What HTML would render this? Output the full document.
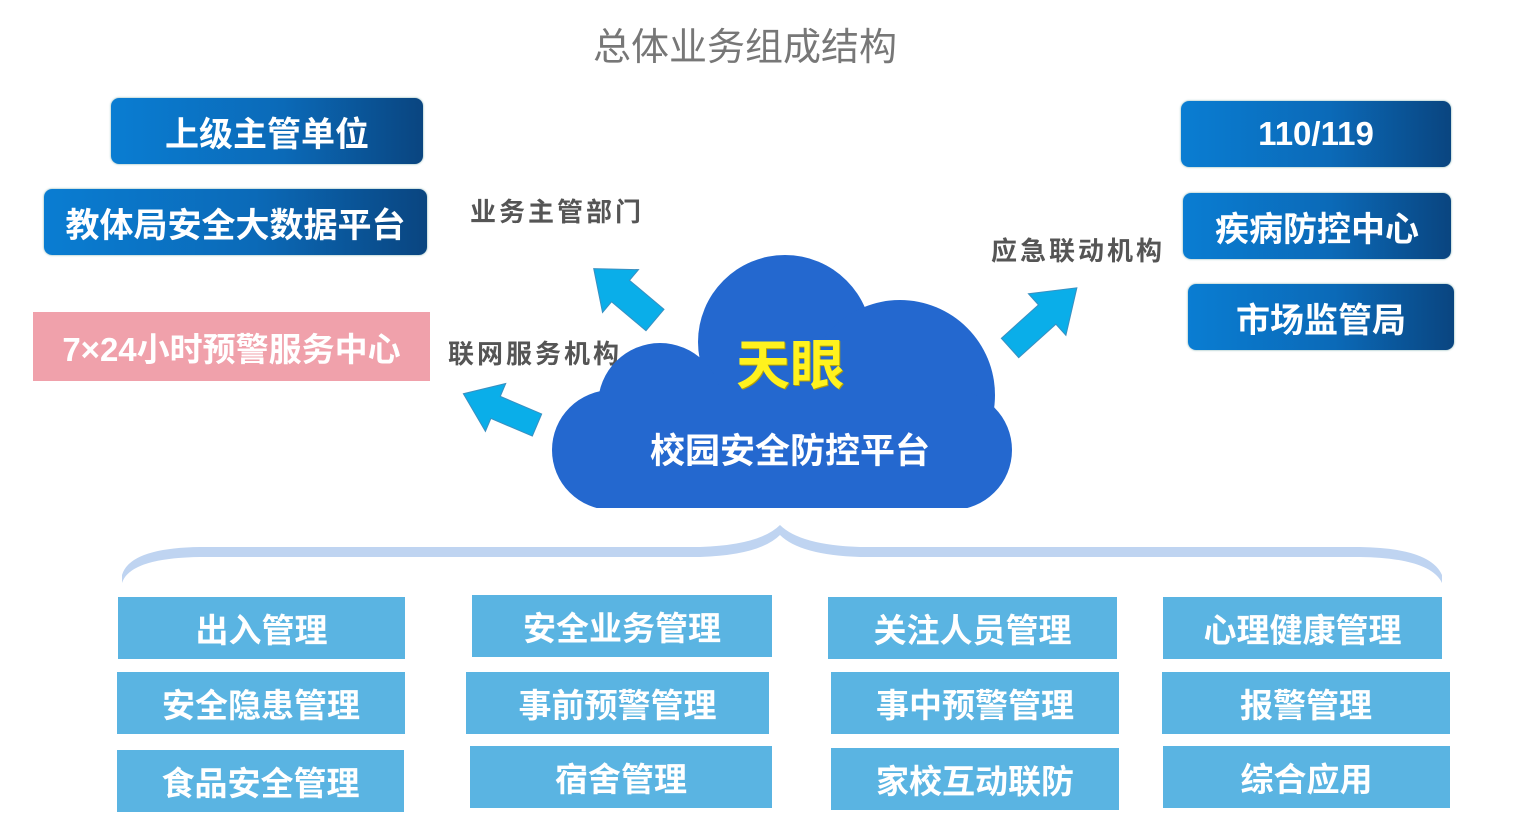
<!DOCTYPE html>
<html><head><meta charset="utf-8"><style>
body{margin:0;width:1515px;height:835px;background:#fff;position:relative;overflow:hidden;font-family:"Liberation Sans","Noto Sans CJK SC",sans-serif}
.a{position:absolute;display:flex;align-items:center;justify-content:center;color:#fff;font-weight:bold;white-space:nowrap}
.g{background:linear-gradient(90deg,#0a7dd2 0%,#0b6ab8 55%,#0a4580 100%);border-radius:8px;box-shadow:0 0 2px #7aa}
.b{background:#5ab4e2;font-size:33px}
.l{position:absolute;color:#555;font-weight:bold;font-size:26px;letter-spacing:3px;white-space:nowrap}
</style></head><body>
<div class="a" style="left:560px;top:18px;width:370px;height:50px;color:#777;font-weight:normal;font-size:38px">总体业务组成结构</div>
<div class="a g" style="left:111px;top:98px;width:312px;height:66px;font-size:34px">上级主管单位</div>
<div class="a g" style="left:44px;top:189px;width:383px;height:66px;font-size:34px">教体局安全大数据平台</div>
<div class="a" style="left:33px;top:312px;width:397px;height:69px;background:#f0a1ab;font-size:33px">7×24小时预警服务中心</div>
<div class="a g" style="left:1181px;top:101px;width:270px;height:66px;font-size:33px">110/119</div>
<div class="a g" style="left:1183px;top:193px;width:268px;height:66px;font-size:34px">疾病防控中心</div>
<div class="a g" style="left:1188px;top:284px;width:266px;height:66px;font-size:34px">市场监管局</div>
<div class="l" style="left:470px;top:192px">业务主管部门</div>
<div class="l" style="left:448px;top:334px">联网服务机构</div>
<div class="l" style="left:991px;top:231px">应急联动机构</div>
<svg style="position:absolute;left:0;top:0" width="1515" height="835">
<defs><clipPath id="c"><rect x="0" y="0" width="1515" height="508"/></clipPath></defs>
<g fill="#2468cf" clip-path="url(#c)">
<circle cx="785" cy="342" r="87"/><circle cx="900" cy="395" r="95"/><circle cx="660" cy="405" r="62"/>
<circle cx="612" cy="450" r="60"/><circle cx="952" cy="450" r="60"/>
<rect x="612" y="385" width="345" height="123"/>
</g>
<g fill="#0aaee9" stroke="#3a8fc0" stroke-width="1">
<polygon points="0,-14 45,-14 45,-28 80,0 45,28 45,14 0,14" transform="translate(655,320) rotate(-140)"/>
<polygon points="0,-12 45,-12 45,-26 80,0 45,26 45,12 0,12" transform="translate(537,425) rotate(-157)"/>
<polygon points="0,-13 50,-13 50,-28 90,0 50,28 50,13 0,13" transform="translate(1010,348) rotate(-42)"/>
</g>
<path d="M122,583 Q130,558 200,557 L700,557 Q760,555 780,535 Q800,555 860,557 L1360,557 Q1430,558 1442,583 L1442,575 Q1430,548 1360,547 L860,547 Q800,545 780,525 Q760,545 700,547 L200,547 Q130,548 122,575Z" fill="#bfd4f1"/>
</svg>
<div class="a" style="left:710px;top:328px;width:160px;height:64px;color:#fff21e;font-size:54px;text-shadow:1px 1px 0 #b8a000">天眼</div>
<div class="a" style="left:610px;top:423px;width:360px;height:50px;font-size:35px">校园安全防控平台</div>
<div class="a b" style="left:118px;top:597px;width:287px;height:62px">出入管理</div>
<div class="a b" style="left:117px;top:672px;width:288px;height:62px">安全隐患管理</div>
<div class="a b" style="left:117px;top:750px;width:287px;height:62px">食品安全管理</div>
<div class="a b" style="left:472px;top:595px;width:300px;height:62px">安全业务管理</div>
<div class="a b" style="left:466px;top:672px;width:303px;height:62px">事前预警管理</div>
<div class="a b" style="left:470px;top:746px;width:302px;height:62px">宿舍管理</div>
<div class="a b" style="left:828px;top:597px;width:289px;height:62px">关注人员管理</div>
<div class="a b" style="left:831px;top:672px;width:288px;height:62px">事中预警管理</div>
<div class="a b" style="left:831px;top:748px;width:288px;height:62px">家校互动联防</div>
<div class="a b" style="left:1163px;top:597px;width:279px;height:62px">心理健康管理</div>
<div class="a b" style="left:1162px;top:672px;width:288px;height:62px">报警管理</div>
<div class="a b" style="left:1163px;top:746px;width:287px;height:62px">综合应用</div>
</body></html>
